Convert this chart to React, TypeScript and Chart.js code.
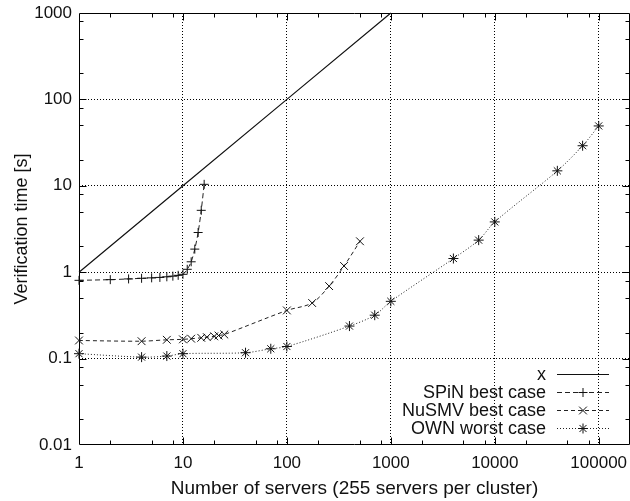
import React, { useEffect, useRef } from "react";
import { Chart, registerables } from "chart.js";

Chart.register(...registerables);

// ---- axis ticks ----
const xTickValues = [1, 10, 100, 1000, 10000, 100000];
const xTickLabels = ["1", "10", "100", "1000", "10000", "100000"];
const yTickValues = [0.01, 0.1, 1, 10, 100, 1000];
const yTickLabels = ["0.01", "0.1", "1", "10", "100", "1000"];
const minorMultipliers = [2, 5, 8];

const xAxisTitle = "Number of servers (255 servers per cluster)";
const yAxisTitle = "Verification time [s]";

// ---- series ----
const seriesNames = ["x", "SPiN best case", "NuSMV best case", "OWN worst case"];

const identityX = [1, 10, 100, 1000];
const identityY = [1, 10, 100, 1000];

const spinX = [1, 2, 3, 4, 5, 6, 7, 8, 9, 10, 11, 12, 13, 14, 15, 16];
const spinY = [0.805, 0.82, 0.836, 0.85, 0.86, 0.87, 0.885, 0.9, 0.92, 0.945, 1.08, 1.32, 1.85, 2.88, 5.2, 10.4];

const nusmvX = [1, 4, 7, 10, 12, 15, 17, 20, 22, 25, 100, 175, 255, 355, 505];
const nusmvY = [0.162, 0.159, 0.165, 0.167, 0.17, 0.174, 0.177, 0.181, 0.185, 0.19, 0.361, 0.44, 0.69, 1.18, 2.28];

const ownX = [1, 4, 7, 10, 40, 70, 100, 400, 700, 1000, 4000, 7000, 10000, 40000, 70000, 100000];
const ownY = [0.114, 0.104, 0.107, 0.114, 0.117, 0.13, 0.138, 0.238, 0.318, 0.46, 1.44, 2.35, 3.82, 14.9, 29.1, 49.3];

const FONT = "'Liberation Sans', Arial, Helvetica, sans-serif";

function drawMarker(ctx: CanvasRenderingContext2D, style: string, x: number, y: number, r: number) {
  ctx.beginPath();
  if (style === "cross" || style === "star") {
    ctx.moveTo(x - r, y);
    ctx.lineTo(x + r, y);
    ctx.moveTo(x, y - r);
    ctx.lineTo(x, y + r);
  }
  if (style === "crossRot" || style === "star") {
    const d = r * Math.SQRT1_2;
    ctx.moveTo(x - d, y - d);
    ctx.lineTo(x + d, y + d);
    ctx.moveTo(x - d, y + d);
    ctx.lineTo(x + d, y - d);
  }
  ctx.stroke();
}

const framePlugin = {
  id: "gnuFrame",
  beforeDatasetsDraw(chart: any) {
    const { ctx, chartArea: a, scales } = chart;
    const xs = scales.x;
    const ys = scales.y;
    const L = Math.round(a.left) + 0.5;
    const R = Math.round(a.right) - 0.5;
    const T = Math.round(a.top) + 0.5;
    const B = Math.round(a.bottom) - 0.5;
    ctx.save();
    ctx.strokeStyle = "#000";
    ctx.lineWidth = 1;
    ctx.setLineDash([]);
    ctx.beginPath();
    ctx.rect(L, T, R - L, B - T);
    ctx.stroke();

    const tick = (v: number, len: number, horizontal: boolean) => {
      if (horizontal) {
        const p = Math.round(xs.getPixelForValue(v)) + 0.5;
        if (p <= L + 1 || p >= R - 1) return;
        ctx.beginPath();
        ctx.moveTo(p, B);
        ctx.lineTo(p, B - len);
        ctx.moveTo(p, T);
        ctx.lineTo(p, T + len);
        ctx.stroke();
      } else {
        const p = Math.round(ys.getPixelForValue(v)) + 0.5;
        if (p <= T + 1 || p >= B - 1) return;
        ctx.beginPath();
        ctx.moveTo(L, p);
        ctx.lineTo(L + len, p);
        ctx.moveTo(R, p);
        ctx.lineTo(R - len, p);
        ctx.stroke();
      }
    };
    for (let e = 0; e <= 5; e++) {
      const base = Math.pow(10, e);
      tick(base, 7, true);
      minorMultipliers.forEach((m) => tick(base * m, 4, true));
    }
    for (let e = -2; e <= 3; e++) {
      const base = Math.pow(10, e);
      tick(base, 7, false);
      minorMultipliers.forEach((m) => tick(base * m, 4, false));
    }
    ctx.restore();
  },
  afterDatasetsDraw(chart: any) {
    const { ctx, chartArea: a } = chart;
    const textRight = a.right - 84;
    const sx1 = a.right - 73;
    const sx2 = a.right - 21;
    const firstRow = a.bottom - 71.5;
    const rowH = 18.3;
    ctx.save();
    ctx.font = `18px ${FONT}`;
    ctx.textAlign = "right";
    ctx.textBaseline = "middle";
    chart.data.datasets.forEach((ds: any, i: number) => {
      const y = Math.round(firstRow + i * rowH) + 0.5;
      ctx.fillStyle = "#111";
      ctx.fillText(ds.label, textRight, y + 1);
      ctx.strokeStyle = ds.borderColor;
      ctx.lineWidth = ds.borderWidth;
      ctx.setLineDash(ds.borderDash || []);
      ctx.beginPath();
      ctx.moveTo(sx1, y);
      ctx.lineTo(sx2, y);
      ctx.stroke();
      ctx.setLineDash([]);
      if (ds.pointRadius > 0) {
        ctx.strokeStyle = ds.pointBorderColor;
        ctx.lineWidth = 1;
        drawMarker(ctx, ds.pointStyle, (sx1 + sx2) / 2, y, ds.pointRadius);
      }
    });
    ctx.restore();
  },
};

function toPoints(xs: number[], ys: number[]) {
  return xs.map((x, i) => ({ x, y: ys[i] }));
}

export default function App() {
  const canvasRef = useRef<HTMLCanvasElement | null>(null);

  useEffect(() => {
    const canvas = canvasRef.current;
    if (!canvas) return;
    const chart = new Chart(canvas, {
      type: "line",
      data: {
        datasets: [
          {
            label: seriesNames[0],
            data: toPoints(identityX, identityY),
            borderColor: "#111",
            borderWidth: 1.2,
            borderDash: [],
            pointRadius: 0,
            pointStyle: "circle",
            pointBorderColor: "#111",
            tension: 0,
            clip: false,
          },
          {
            label: seriesNames[1],
            data: toPoints(spinX, spinY),
            borderColor: "#222",
            borderWidth: 1,
            borderDash: [5, 3],
            pointStyle: "cross",
            pointRadius: 4.5,
            pointBorderColor: "#111",
            pointBorderWidth: 1,
            pointBackgroundColor: "rgba(0,0,0,0)",
            tension: 0.3,
            clip: false,
          },
          {
            label: seriesNames[2],
            data: toPoints(nusmvX, nusmvY),
            borderColor: "#222",
            borderWidth: 1,
            borderDash: [4, 3],
            pointStyle: "crossRot",
            pointRadius: 5.5,
            pointBorderColor: "#111",
            pointBorderWidth: 1,
            pointBackgroundColor: "rgba(0,0,0,0)",
            tension: 0.3,
            clip: false,
          },
          {
            label: seriesNames[3],
            data: toPoints(ownX, ownY),
            borderColor: "#222",
            borderWidth: 1,
            borderDash: [1, 2],
            pointStyle: "star",
            pointRadius: 5,
            pointBorderColor: "#111",
            pointBorderWidth: 1,
            pointBackgroundColor: "rgba(0,0,0,0)",
            tension: 0.3,
            clip: false,
          },
        ],
      },
      options: {
        responsive: false,
        animation: false,
        devicePixelRatio: 1,
        layout: { autoPadding: false, padding: { top: 13, left: 0, right: 0, bottom: 0 } },
        plugins: {
          legend: { display: false },
          tooltip: { enabled: false },
        },
        scales: {
          x: {
            type: "logarithmic",
            min: 1,
            max: 200000,
            afterBuildTicks: (s: any) => {
              s.ticks = xTickValues.map((v) => ({ value: v }));
            },
            afterFit: (s: any) => {
              s.height = 56;
              s.paddingLeft = 0;
              s.paddingRight = 0;
            },
            ticks: {
              autoSkip: false,
              maxRotation: 0,
              minRotation: 0,
              padding: 8,
              color: "#111",
              font: { family: FONT, size: 17 },
              callback: (v: any) => xTickLabels[xTickValues.indexOf(Number(v))] ?? "",
            },
            grid: {
              drawTicks: false,
              lineWidth: 1,
              color: (c: any) => (c.tick && c.tick.value === 1 ? "rgba(0,0,0,0)" : "#000"),
            },
            border: { display: false, dash: [1, 2] },
            title: {
              display: true,
              text: xAxisTitle,
              color: "#111",
              font: { family: FONT, size: 19 },
              padding: { top: 0, bottom: 1 },
            },
          },
          y: {
            type: "logarithmic",
            min: 0.01,
            max: 1000,
            afterBuildTicks: (s: any) => {
              s.ticks = yTickValues.map((v) => ({ value: v }));
            },
            afterFit: (s: any) => {
              s.width = 79;
              s.paddingTop = 0;
              s.paddingBottom = 0;
            },
            ticks: {
              autoSkip: false,
              padding: 7,
              color: "#111",
              font: { family: FONT, size: 17 },
              callback: (v: any) => yTickLabels[yTickValues.indexOf(Number(v))] ?? "",
            },
            grid: {
              drawTicks: false,
              lineWidth: 1,
              color: (c: any) =>
                c.tick && (c.tick.value === 0.01 || c.tick.value === 1000) ? "rgba(0,0,0,0)" : "#000",
            },
            border: { display: false, dash: [1, 2] },
            title: {
              display: true,
              text: yAxisTitle,
              color: "#111",
              font: { family: FONT, size: 18 },
              padding: { top: 11, bottom: 0 },
            },
          },
        },
      },
      plugins: [framePlugin],
    } as any);
    return () => chart.destroy();
  }, []);

  return (
    <div style={{ position: "fixed", left: 0, top: 0, width: 630, height: 501, background: "#fff" }}>
      <canvas ref={canvasRef} width={630} height={501} style={{ display: "block", width: 630, height: 501 }} />
    </div>
  );
}
